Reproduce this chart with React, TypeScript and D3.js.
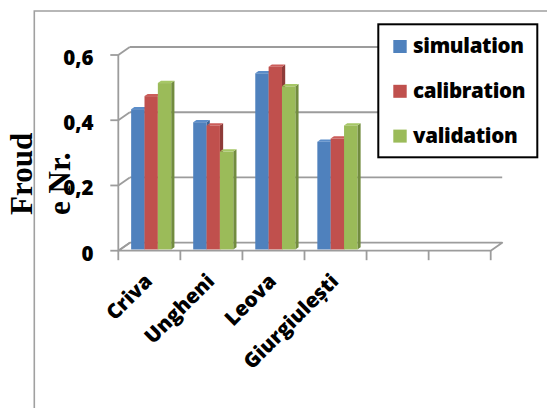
import React from "react";
import * as d3 from "d3";

// Stations (slots 4 and 5 of the axis are left empty)
const categories = ["Criva", "Ungheni", "Leova", "Giurgiulești"];
const slotCount = 6;

const seriesNames = ["simulation", "calibration", "validation"];
const simulation = [0.43, 0.39, 0.54, 0.33];
const calibration = [0.47, 0.38, 0.56, 0.34];
const validation = [0.51, 0.3, 0.5, 0.38];

const yTicks = [0, 0.2, 0.4, 0.6];
const yTickLabels = ["0", "0,2", "0,4", "0,6"];

const faceColors = ["#4F81BD", "#C0504D", "#9BBB59"];
const sideColors = ["#3A6496", "#8E3B39", "#728C3F"];
const topColors = ["#5B8DC9", "#CB5D5A", "#A6C766"];

const W = 547;
const H = 408;

// depth offset of the back wall relative to the front plane
const DX = 11.5;
const DY = 8;

const GRID = "#9C9C9C";
const FONT = "'Open Sans', sans-serif";

export default function App() {
  const values = [simulation, calibration, validation];

  const x = d3.scaleLinear().domain([0, slotCount]).range([118.3, 490.7]);
  const y = d3.scaleLinear().domain([0, 0.6]).range([250.7, 55]);

  const px = (xv: number, z: number) => xv + z * DX;
  const py = (yv: number, z: number) => yv - z * DY;
  const pt = (xv: number, v: number, z: number) => `${px(xv, z)},${py(y(v), z)}`;

  const zFront = 0.16;
  const zBack = 0.44;

  const bars: React.ReactNode[] = [];
  categories.forEach((cat, i) => {
    const inner = d3
      .scaleBand<string>()
      .domain(seriesNames)
      .range([x(i) + 11, x(i + 1) - 11])
      .padding(0);
    seriesNames.forEach((s, j) => {
      const v = values[j][i];
      const x0 = inner(s)!;
      const x1 = x0 + inner.bandwidth();
      bars.push(
        <g key={`${cat}-${s}`}>
          <polygon
            points={[pt(x1, 0, zFront), pt(x1, v, zFront), pt(x1, v, zBack), pt(x1, 0, zBack)].join(" ")}
            fill={sideColors[j]}
          />
          <polygon
            points={[pt(x0, v, zFront), pt(x1, v, zFront), pt(x1, v, zBack), pt(x0, v, zBack)].join(" ")}
            fill={topColors[j]}
          />
          <rect
            x={px(x0, zFront)}
            y={py(y(v), zFront)}
            width={x1 - x0}
            height={y(0) - y(v)}
            fill={faceColors[j]}
          />
        </g>
      );
    });
  });

  const xLeft = x(0);
  const xRight = x(slotCount);

  return (
    <svg width={W} height={H} style={{ position: "absolute", left: 0, top: 0, background: "#fff" }}>
      {/* outer chart frame */}
      <polyline points={`34.3,${H} 34.3,11 ${W},11`} fill="none" stroke="#A0A0A0" strokeWidth={1.6} />

      {/* floor */}
      <polygon
        points={[pt(xLeft, 0, 0), pt(xRight, 0, 0), pt(xRight, 0, 1), pt(xLeft, 0, 1)].join(" ")}
        fill="#fff"
        stroke={GRID}
        strokeWidth={1.8}
        strokeLinejoin="round"
      />

      {/* gridlines: outward tick, left wall diagonal, back wall line */}
      {yTicks.map((t) => (
        <g key={t}>
          <line x1={xLeft - 8} x2={xLeft} y1={y(t)} y2={y(t)} stroke={GRID} strokeWidth={1.8} />
          <line x1={xLeft} y1={y(t)} x2={px(xLeft, 1)} y2={py(y(t), 1)} stroke={GRID} strokeWidth={1.8} />
          {t > 0 && (
            <line
              x1={px(xLeft, 1)}
              x2={px(xRight, 1)}
              y1={py(y(t), 1)}
              y2={py(y(t), 1)}
              stroke={GRID}
              strokeWidth={1.8}
            />
          )}
        </g>
      ))}

      {/* vertical value axis */}
      <line x1={xLeft} x2={xLeft} y1={y(0.6)} y2={y(0)} stroke={GRID} strokeWidth={1.8} />

      {/* category ticks */}
      {d3.range(slotCount + 1).map((k) => (
        <line key={k} x1={x(k)} x2={x(k)} y1={y(0)} y2={y(0) + 9.5} stroke={GRID} strokeWidth={1.8} />
      ))}

      {bars}

      {/* value labels */}
      {yTicks.map((t, k) => (
        <text
          key={t}
          x={93.5}
          y={y(t) + 2}
          textAnchor="end"
          dominantBaseline="central"
          fontFamily={FONT}
          fontWeight={800}
          fontSize={20.5}
          fill="#000"
        >
          {yTickLabels[k]}
        </text>
      ))}

      {/* category labels */}
      {categories.map((c, i) => {
        const ax = (x(i) + x(i + 1)) / 2 + 4.2;
        const ay = 282.5;
        return (
          <text
            key={c}
            x={ax}
            y={ay}
            transform={`rotate(-45 ${ax} ${ay})`}
            textAnchor="end"
            fontFamily={FONT}
            fontWeight={800}
            fontSize={20.5}
            fill="#000"
          >
            {c}
          </text>
        );
      })}

      {/* axis title */}
      <g fontFamily="'Liberation Serif', 'Times New Roman', serif" fontWeight={700} fontSize={31} fill="#000">
        <text transform="translate(32.3,215) rotate(-90)">Froud</text>
        <text transform="translate(70,215) rotate(-90)">e Nr.</text>
      </g>

      {/* legend */}
      <g>
        <rect x={378.3} y={24.3} width={159} height={133} fill="#fff" stroke="#000" strokeWidth={2} />
        {seriesNames.map((s, j) => (
          <g key={s} transform={`translate(0, ${j * 44.8})`}>
            <rect x={393.3} y={40} width={13.4} height={13} fill={faceColors[j]} />
            <text
              x={413}
              y={53.3}
              fontFamily={FONT}
              fontWeight={800}
              fontSize={20.5}
              letterSpacing={-0.3}
              fill="#000"
            >
              {s}
            </text>
          </g>
        ))}
      </g>
    </svg>
  );
}
